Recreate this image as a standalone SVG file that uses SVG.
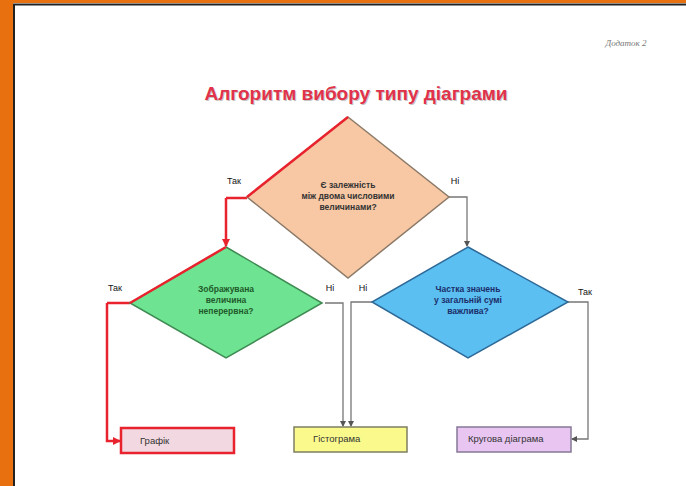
<svg xmlns="http://www.w3.org/2000/svg" width="686" height="486" viewBox="0 0 686 486">
<defs>
<marker id="ar" markerWidth="8" markerHeight="8" refX="7" refY="4" orient="auto" markerUnits="userSpaceOnUse"><path d="M0,0 L8,4 L0,8 z" fill="#E8232E"/></marker>
<marker id="ag" markerWidth="6" markerHeight="6" refX="5" refY="3" orient="auto" markerUnits="userSpaceOnUse"><path d="M0,0 L6,3 L0,6 z" fill="#555"/></marker>
</defs>
<style>
text{font-family:"Liberation Sans",Arial,sans-serif}
.lbl{font-size:9px;fill:#111}
.dt{font-size:8.5px;font-weight:bold;text-anchor:middle}
.bt{font-size:9.5px;fill:#333}
.red{fill:none;stroke:#E8232E;stroke-width:2.5}
.gray{fill:none;stroke:#777;stroke-width:1.3}
</style>
<rect width="686" height="486" fill="#fff"/>
<rect x="0" y="0" width="13" height="486" fill="#E8700E"/>
<rect x="0" y="0" width="686" height="3" fill="#E8700E"/>
<path d="M14,486 V4.5 H686" fill="none" stroke="#222" stroke-width="2"/>
<text x="626" y="46" text-anchor="middle" style="font-family:'Liberation Serif',serif;font-style:italic;font-size:9px;fill:#777">Додаток 2</text>
<text x="357" y="101" text-anchor="middle" style="font-size:19px;font-weight:bold;fill:#A0A0A0" opacity="0.6">Алгоритм вибору типу діаграми</text>
<text x="356" y="100" text-anchor="middle" style="font-size:19px;font-weight:bold;fill:#E0324A">Алгоритм вибору типу діаграми</text>
<g id="connectors">
<path class="red" d="M226,198 H247"/>
<path class="red" d="M226,198 V246" marker-end="url(#ar)"/>
<path class="red" d="M107,303 H130"/>
<path class="red" d="M107,303 V441 H120" marker-end="url(#ar)"/>
<path class="gray" d="M448,197 H467 V246" marker-end="url(#ag)"/>
<path class="gray" d="M325,303 H343 V426" marker-end="url(#ag)"/>
<path class="gray" d="M372,302 H351 V426" marker-end="url(#ag)"/>
<path class="gray" d="M568,302 H588 V439 H572" marker-end="url(#ag)"/>
<text class="lbl" x="234" y="184" text-anchor="middle">Так</text>
<text class="lbl" x="455" y="184" text-anchor="middle">Ні</text>
<text class="lbl" x="115" y="291" text-anchor="middle">Так</text>
<text class="lbl" x="330" y="291" text-anchor="middle">Ні</text>
<text class="lbl" x="363" y="291" text-anchor="middle">Ні</text>
<text class="lbl" x="585" y="295" text-anchor="middle">Так</text>
</g>
<g id="d1">
<path d="M348,117 L449,197 L348,278 L247,197 z" fill="#F8C8A4" stroke="#8C7A68" stroke-width="1.5"/>
<path d="M247,197 L348,117" fill="none" stroke="#E8232E" stroke-width="2.5"/>
<text class="dt" x="348" y="188" fill="#333">Є залежність</text>
<text class="dt" x="348" y="199" fill="#333">між двома числовими</text>
<text class="dt" x="348" y="210" fill="#333">величинами?</text>
</g>
<g id="d2">
<path d="M226,247 L322,303 L226,358 L130,303 z" fill="#6EE492" stroke="#3E8A52" stroke-width="1.5"/>
<path d="M130,303 L226,247" fill="none" stroke="#E8232E" stroke-width="2.5"/>
<text class="dt" x="226" y="292" fill="#1E5A2A">Зображувана</text>
<text class="dt" x="226" y="303" fill="#1E5A2A">величина</text>
<text class="dt" x="226" y="314" fill="#1E5A2A">неперервна?</text>
</g>
<g id="d3">
<path d="M468,247 L568,302 L468,358 L372,302 z" fill="#5CBFF2" stroke="#2E6A98" stroke-width="1.5"/>
<text class="dt" x="468" y="292" fill="#1A2E6A">Частка значень</text>
<text class="dt" x="468" y="303" fill="#1A2E6A">у загальній сумі</text>
<text class="dt" x="468" y="314" fill="#1A2E6A">важлива?</text>
</g>
<g id="b1">
<rect x="121" y="428" width="113" height="25" fill="#F2D8E0" stroke="#E8232E" stroke-width="2.5"/>
<text class="bt" x="140" y="444">Графік</text>
</g>
<g id="b2">
<rect x="294" y="427" width="113" height="25" fill="#FAFA8C" stroke="#7E7E62" stroke-width="1.5"/>
<text class="bt" x="313" y="442">Гістограма</text>
</g>
<g id="b3">
<rect x="457" y="427" width="114" height="25" fill="#E9C6F2" stroke="#857896" stroke-width="1.5"/>
<text class="bt" x="468" y="442">Кругова діаграма</text>
</g>
</svg>
